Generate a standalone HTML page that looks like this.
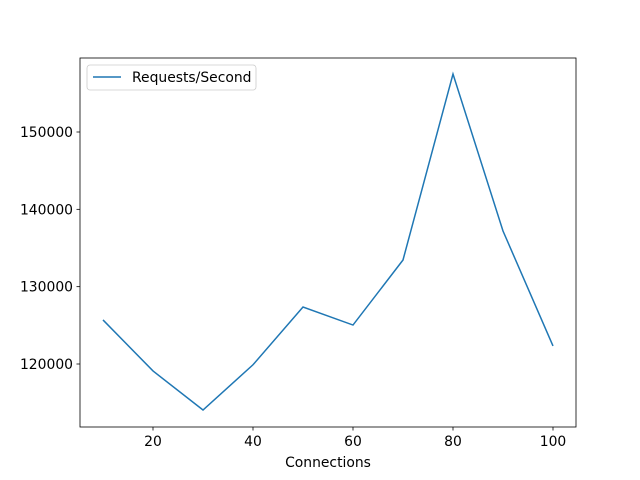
<!DOCTYPE html>
<html><head><meta charset="utf-8"><style>
body{margin:0;background:#fff}
svg{display:block;font-family:"DejaVu Sans",sans-serif}
</style></head><body>
<svg id="chart" width="640" height="480">
<rect x="0" y="0" width="640" height="480" fill="#fff"/>
<g id="ticks"></g>
<polyline id="line" fill="none" stroke="#1f77b4" stroke-width="1.5"/>
<rect x="80" y="58" width="496" height="369" fill="none" stroke="#000" stroke-width="0.8"/>
<text x="328" y="467" font-size="13.9" text-anchor="middle">Connections</text>
<g>
<rect x="87" y="65" width="169" height="25" rx="3" fill="#fff" stroke="#ccc" stroke-width="0.8"/>
<line x1="93" y1="77" x2="121" y2="77" stroke="#1f77b4" stroke-width="1.5"/>
<text x="132" y="82" font-size="13.9">Requests/Second</text>
</g>
</svg>
<script>
const connections=[10,20,30,40,50,60,70,80,90,100];
const requestsPerSecond=[125700,119100,114050,119900,127370,125040,133450,157500,137200,122330];
const xTicks=[20,40,60,80,100];
const yTicks=[120000,130000,140000,150000];
const sx=v=>53+v*5;
const sy=v=>364-(v-120000)*232/30000;
const ns="http://www.w3.org/2000/svg";
const g=document.getElementById('ticks');
function mk(t,a){const e=document.createElementNS(ns,t);for(const k in a)e.setAttribute(k,a[k]);g.appendChild(e);return e;}
xTicks.forEach(v=>{
 const l=mk('line',{x1:sx(v),x2:sx(v),y1:427,y2:430.5,stroke:'#000','stroke-width':0.8});
 
 
 const t=mk('text',{x:sx(v),y:446,'font-size':13.9,'text-anchor':'middle'});t.textContent=v;
 
 
});
yTicks.forEach(v=>{
 const l=mk('line',{x1:76.5,x2:80,y1:sy(v),y2:sy(v),stroke:'#000','stroke-width':0.8});
 
 
 const t=mk('text',{x:73,y:sy(v)+5,'font-size':13.9,'text-anchor':'end'});t.textContent=v;
 
 
});
document.getElementById('line').setAttribute('points',connections.map((c,i)=>sx(c)+','+sy(requestsPerSecond[i])).join(' '));
</script>
</body></html>
